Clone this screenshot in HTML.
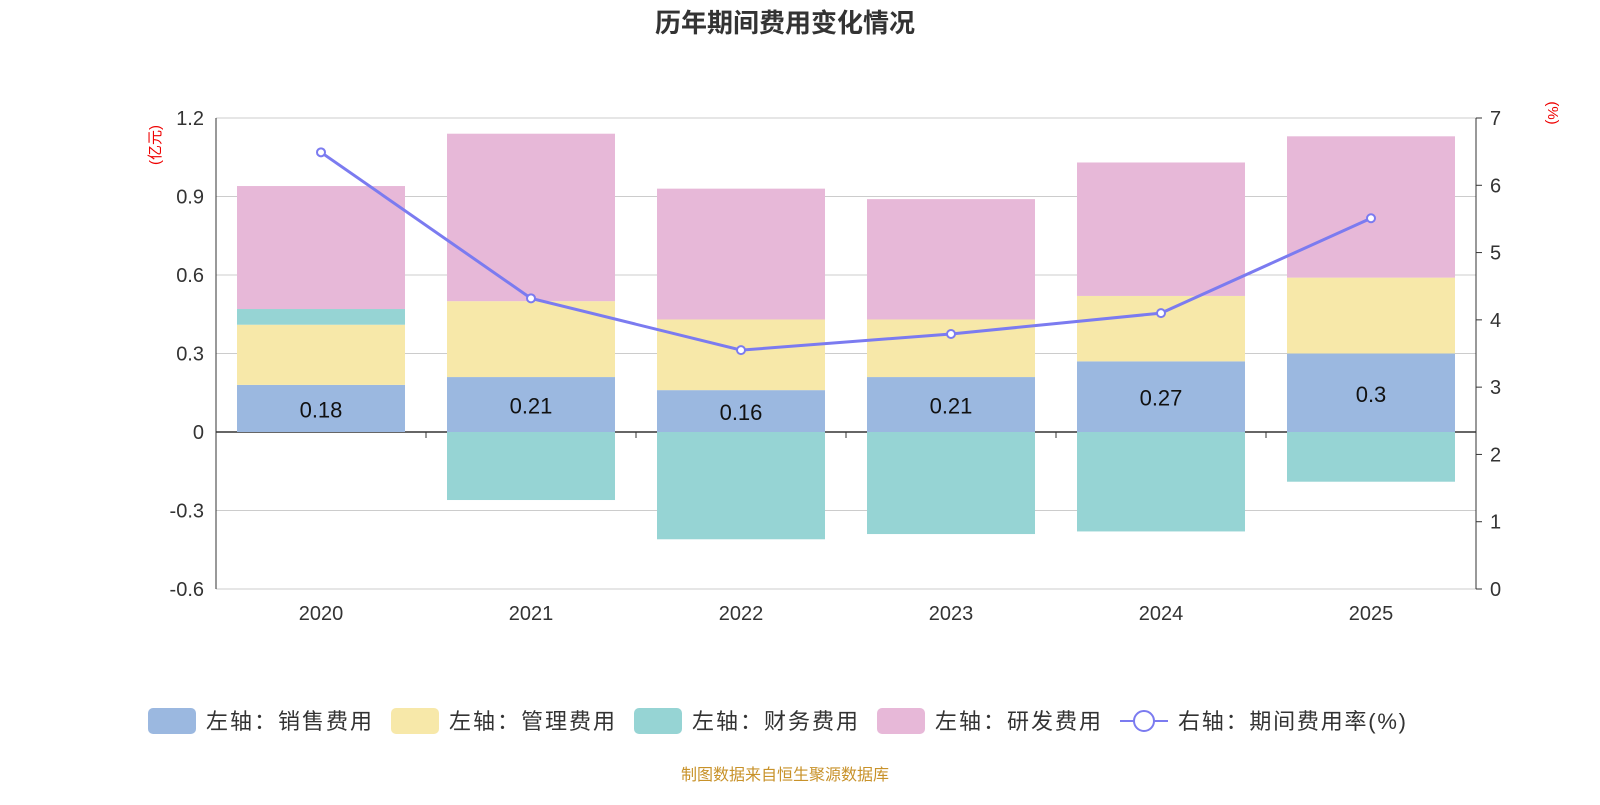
<!DOCTYPE html>
<html><head><meta charset="utf-8"><style>
body{margin:0;background:#fff;font-family:"Liberation Sans","Noto Sans CJK SC",sans-serif;}
svg text{font-family:"Liberation Sans","Noto Sans CJK SC",sans-serif;}
</style></head><body>
<svg id="chart" width="1600" height="800" xmlns="http://www.w3.org/2000/svg">
<text x="785" y="32" text-anchor="middle" font-size="26" font-weight="bold" fill="#333">历年期间费用变化情况</text>
<text transform="translate(160,145) rotate(-90)" text-anchor="middle" font-size="15" fill="#e00">(亿元)</text>
<text transform="translate(1548,113) rotate(90)" text-anchor="middle" font-size="15" fill="#e00">(%)</text>
<g id="grid"></g><g id="bars"></g><g id="axes"></g><g id="line"></g>
<g font-size="22" fill="#333">
<rect x="148" y="708" width="48" height="26" rx="5" fill="#9bb8e0"/><text x="206" y="729" textLength="166">左轴：销售费用</text>
<rect x="391" y="708" width="48" height="26" rx="5" fill="#f7e8a9"/><text x="449" y="729" textLength="166">左轴：管理费用</text>
<rect x="634" y="708" width="48" height="26" rx="5" fill="#96d4d4"/><text x="692" y="729" textLength="166">左轴：财务费用</text>
<rect x="877" y="708" width="48" height="26" rx="5" fill="#e7b8d8"/><text x="935" y="729" textLength="166">左轴：研发费用</text>
<g><line x1="1120" y1="721" x2="1168" y2="721" stroke="#7b7bf0" stroke-width="2"/><circle cx="1144" cy="721" r="10" fill="#fff" stroke="#7b7bf0" stroke-width="2"/></g><text x="1178" y="729" textLength="228">右轴：期间费用率(%)</text>
</g>
<text x="785" y="780" text-anchor="middle" font-size="16" fill="#c8922a">制图数据来自恒生聚源数据库</text>
</svg>
<script>
const categories=["2020","2021","2022","2023","2024","2025"];
const sales=[0.18,0.21,0.16,0.21,0.27,0.30];
const management=[0.23,0.29,0.27,0.22,0.25,0.29];
const finance=[0.06,-0.26,-0.41,-0.39,-0.38,-0.19];
const rnd=[0.47,0.64,0.50,0.46,0.51,0.54];
const rate=[6.49,4.32,3.55,3.79,4.10,5.51];
const leftTicks=[-0.6,-0.3,0,0.3,0.6,0.9,1.2];
const rightTicks=[0,1,2,3,4,5,6,7];
const salesLabels=["0.18","0.21","0.16","0.21","0.27","0.3"];
const NS="http://www.w3.org/2000/svg";
const X0=216,X1=1476,YT=118,YB=589;
const yL=v=>YB-(v+0.6)/1.8*(YB-YT);
const yR=v=>YB-v/7*(YB-YT);
const band=(X1-X0)/categories.length;
const xC=i=>X0+band*(i+0.5);
function mk(tag,attrs,parent){const e=document.createElementNS(NS,tag);for(const k in attrs)e.setAttribute(k,attrs[k]);document.getElementById(parent).appendChild(e);return e;}
leftTicks.forEach(t=>{
  const g=mk('line',{x1:X0,x2:X1,y1:yL(t),y2:yL(t),stroke:t===0?'#333':'#ccc','stroke-width':t===0?1.5:1},'grid');
  
  
  const tx=mk('text',{x:X0-12,y:yL(t)+7,'text-anchor':'end','font-size':20,fill:'#333'},'axes');
  tx.textContent=t;
  
  
});
rightTicks.forEach(t=>{
  mk('line',{x1:X1,x2:X1+6,y1:yR(t),y2:yR(t),stroke:'#333'},'axes');
  const tx=mk('text',{x:X1+14,y:yR(t)+7,'font-size':20,fill:'#333'},'axes');
  tx.textContent=t;
  
  
});
mk('line',{x1:X0,x2:X0,y1:YT,y2:YB,stroke:'#333'},'axes');
mk('line',{x1:X1,x2:X1,y1:YT,y2:YB,stroke:'#333'},'axes');
for(let i=1;i<categories.length;i++)mk('line',{x1:X0+band*i,x2:X0+band*i,y1:yL(0),y2:yL(0)+6,stroke:'#333'},'axes');
const series=[[sales,'#9bb8e0','bar-sales'],[management,'#f7e8a9','bar-management'],[finance,'#96d4d4','bar-finance'],[rnd,'#e7b8d8','bar-rnd']];
const bw=168;
categories.forEach((c,i)=>{
  let pos=0,neg=0;
  series.forEach(([arr,col,name])=>{
    const v=arr[i];let a,b;
    if(v>=0){a=pos;b=pos+v;pos=b;}else{a=neg;b=neg+v;neg=b;}
    const y1=yL(Math.max(a,b)),y2=yL(Math.min(a,b));
    const r=mk('rect',{x:xC(i)-bw/2,y:y1,width:bw,height:y2-y1,fill:col},'bars');
    
    
  });
  const lt=mk('text',{x:xC(i),y:(yL(0)+yL(sales[i]))/2+9,'text-anchor':'middle','font-size':22,fill:'#111'},'bars');
  lt.textContent=salesLabels[i];
  
  
  const xt=mk('text',{x:xC(i),y:620,'text-anchor':'middle','font-size':20,fill:'#333'},'axes');
  xt.textContent=c;
  
  
});
const pl=mk('polyline',{points:rate.map((v,i)=>xC(i)+','+yR(v)).join(' '),fill:'none',stroke:'#7b7bf0','stroke-width':3},'line');


rate.forEach((v,i)=>{
  const p=mk('circle',{cx:xC(i),cy:yR(v),r:4,fill:'#fff',stroke:'#7b7bf0','stroke-width':2},'line');
  
  
});
</script>
</body></html>
